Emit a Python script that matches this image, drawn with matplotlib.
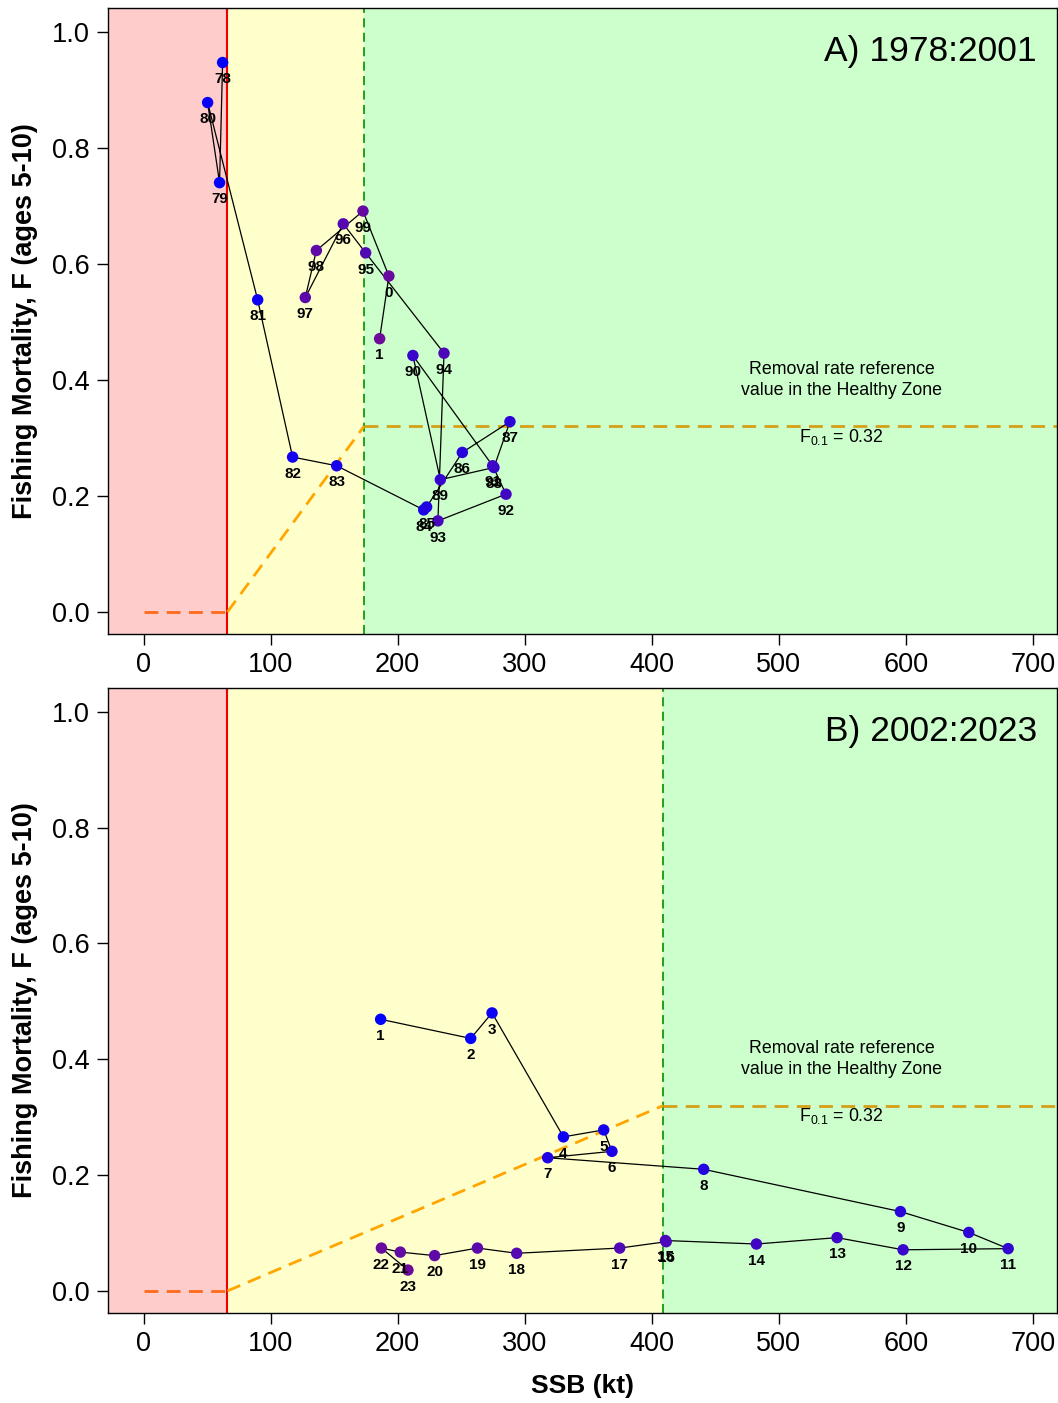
import matplotlib
matplotlib.use('Agg')
import matplotlib.pyplot as plt
import numpy as np
from matplotlib.colors import LinearSegmentedColormap

plt.rcParams['font.family'] = ['Liberation Sans', 'DejaVu Sans']

# panel A: 1978-2001
yearsA = ["78", "79", "80", "81", "82", "83", "84", "85", "86", "87", "88", "89",
          "90", "91", "92", "93", "94", "95", "96", "97", "98", "99", "0", "1"]
ssbA = [62.2, 59.8, 50.4, 89.8, 117.3, 152.0, 220.5, 222.8, 250.9, 288.4, 275.8, 233.6,
        212.0, 274.8, 285.3, 231.7, 236.5, 174.8, 157.2, 127.3, 136.0, 172.7, 193.1, 185.8]
fA = [0.947, 0.740, 0.878, 0.538, 0.267, 0.252, 0.176, 0.181, 0.275, 0.328, 0.249, 0.228,
      0.442, 0.252, 0.203, 0.157, 0.446, 0.619, 0.669, 0.542, 0.623, 0.691, 0.579, 0.471]

# panel B: 2002-2023
yearsB = [str(i) for i in range(1, 24)]
ssbB = [186.6, 257.5, 274.3, 330.5, 362.2, 368.7, 318.1, 440.9, 595.8, 649.6, 680.6, 597.9,
        545.9, 482.4, 410.8, 411.4, 374.8, 293.7, 262.8, 229.1, 202.1, 187.2, 208.1]
fB = [0.469, 0.436, 0.480, 0.266, 0.278, 0.241, 0.230, 0.210, 0.137, 0.101, 0.073, 0.071,
      0.092, 0.081, 0.087, 0.085, 0.074, 0.065, 0.074, 0.061, 0.067, 0.074, 0.036]

LRP = 66
USR_A = 173.5
USR_B = 409
F01 = 0.32

cmap = LinearSegmentedColormap.from_list("bp", ["#0000FF", "#6E0A9A"])


def panel(ax, ssb, f, labels, usr, title):
    ax.set_xlim(-28, 719)
    ax.set_ylim(-0.038, 1.041)
    # zones
    ax.axvspan(-28, LRP, color="#FFCCCC", zorder=0)
    ax.axvspan(LRP, usr, color="#FFFFCC", zorder=0)
    ax.axvspan(usr, 719, color="#CCFFCC", zorder=0)
    ax.axvline(LRP, color="#EE0000", lw=1.5, zorder=1)
    ax.axvline(usr, color="#119911", lw=1.3, ls=(0, (5, 3)), zorder=1)
    # harvest control rule
    ax.plot([0, LRP], [0, 0], color="#FF6A1A", lw=2, ls=(0, (5, 3)), zorder=1)
    ax.plot([LRP, usr], [0, F01], color="#FFA500", lw=2, ls=(0, (5, 3)), zorder=1)
    ax.plot([usr, 719], [F01, F01], color="#D4A017", lw=2, ls=(0, (5, 3)), zorder=1)

    ax.plot(ssb, f, color="black", lw=0.9, zorder=2)
    cols = cmap(np.linspace(0, 1, len(ssb)))
    ax.scatter(ssb, f, s=68, c=cols, zorder=3, linewidths=0)
    for xv, yv, lab in zip(ssb, f, labels):
        ax.annotate(lab, (xv, yv), xytext=(0, -12), textcoords="offset points",
                    ha="center", va="center", fontsize=11, fontweight="bold", zorder=4)

    ax.text(549.6, 0.40, "Removal rate reference\nvalue in the Healthy Zone",
            ha="center", va="center", fontsize=12.8, linespacing=1.3)
    ax.text(549.6, 0.302, r"F$_{\mathregular{0.1}}$ = 0.32", ha="center", va="center", fontsize=12.8)
    ax.text(0.979, 0.93, title, transform=ax.transAxes, ha="right", va="center", fontsize=25.5)

    ax.set_xticks([0, 100, 200, 300, 400, 500, 600, 700])
    ax.set_yticks([0.0, 0.2, 0.4, 0.6, 0.8, 1.0])
    ax.set_yticklabels(["0.0", "0.2", "0.4", "0.6", "0.8", "1.0"])
    ax.tick_params(labelsize=19.5, length=8, width=1, pad=5)
    ax.set_ylabel("Fishing Mortality, F (ages 5-10)", fontsize=19.5, fontweight="bold", labelpad=10)
    for sp in ax.spines.values():
        sp.set_linewidth(1)


fig = plt.figure(figsize=(10.58, 14.03), dpi=100)
axA = fig.add_axes([0.1021, 0.5481, 0.8969, 0.4462])
axB = fig.add_axes([0.1021, 0.0642, 0.8969, 0.4454])
panel(axA, ssbA, fA, yearsA, USR_A, "A) 1978:2001")
panel(axB, ssbB, fB, yearsB, USR_B, "B) 2002:2023")
axB.set_xlabel("SSB (kt)", fontsize=19, fontweight="bold", labelpad=12)

fig.savefig("out.png", dpi=100)
plt.close()
